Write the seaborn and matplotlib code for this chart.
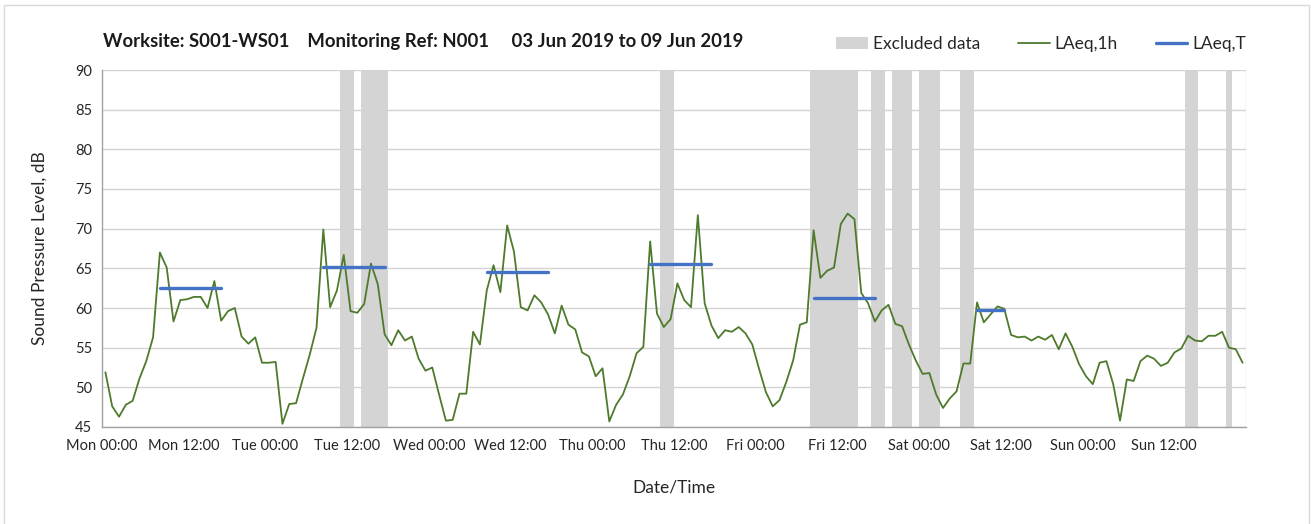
import pandas as pd
import matplotlib
matplotlib.use("Agg")
import matplotlib.pyplot as plt
import matplotlib.dates as mdates
from matplotlib.patches import Rectangle, Patch
from matplotlib.lines import Line2D
import seaborn as sns

# -------------------------------
# Data (hourly LAeq,1h, Mon 03 Jun 2019 00:00 onwards)
# -------------------------------
laeq_mon = [51.9, 47.6, 46.3, 47.8, 48.3, 51.1, 53.3, 56.3, 67.0, 65.1, 58.3, 61.0,
            61.1, 61.4, 61.4, 60.0, 63.4, 58.4, 59.6, 60.0, 56.4, 55.5, 56.3, 53.1]
laeq_tue = [53.1, 53.2, 45.4, 47.9, 48.0, 51.1, 54.1, 57.5, 69.9, 60.1, 62.2, 66.7,
            59.6, 59.4, 60.5, 65.6, 63.0, 56.7, 55.3, 57.2, 55.9, 56.4, 53.6, 52.1]
laeq_wed = [52.5, 49.1, 45.8, 45.9, 49.2, 49.2, 57.0, 55.4, 62.2, 65.4, 62.0, 70.4,
            67.1, 60.1, 59.7, 61.6, 60.7, 59.2, 56.8, 60.3, 57.9, 57.3, 54.4, 53.9]
laeq_thu = [51.4, 52.4, 45.7, 47.8, 49.1, 51.4, 54.3, 55.1, 68.4, 59.3, 57.6, 58.6,
            63.1, 61.0, 60.1, 71.7, 60.6, 57.8, 56.2, 57.2, 57.0, 57.6, 56.8, 55.4]
laeq_fri = [52.3, 49.4, 47.6, 48.4, 50.7, 53.4, 57.9, 58.2, 69.8, 63.8, 64.7, 65.1,
            70.6, 71.9, 71.2, 61.9, 60.6, 58.3, 59.7, 60.4, 58.0, 57.7, 55.4, 53.4]
laeq_sat = [51.7, 51.8, 49.1, 47.4, 48.6, 49.5, 53.0, 53.0, 60.7, 58.2, 59.2, 60.2,
            59.9, 56.6, 56.3, 56.4, 55.9, 56.4, 56.0, 56.6, 54.8, 56.8, 55.1, 52.9]
laeq_sun = [51.4, 50.4, 53.1, 53.3, 50.4, 45.8, 51.0, 50.8, 53.3, 54.0, 53.6, 52.7,
            53.1, 54.4, 54.9, 56.5, 55.9, 55.8, 56.5, 56.5, 57.0, 55.0, 54.8, 53.1]

# LAeq,T periods: first hour, last hour (hours from Mon 00:00), level
period_start = [8, 32, 56, 80, 104, 128]
period_end = [17, 41, 65, 89, 113, 132]
period_level = [62.5, 65.2, 64.5, 65.6, 61.3, 59.8]

# Excluded data spans (hours from Mon 00:00)
excl_start = [35, 38, 82, 104, 113, 116, 120, 126, 159, 165]
excl_end = [37, 42, 84, 111, 115, 119, 123, 128, 161, 166]

x_tick_hours = list(range(0, 168, 12))

# -------------------------------
# Build tables
# -------------------------------
t0 = pd.Timestamp("2019-06-03 00:00")
levels = laeq_mon + laeq_tue + laeq_wed + laeq_thu + laeq_fri + laeq_sat + laeq_sun
df = pd.DataFrame({
    "time": t0 + pd.to_timedelta([h + 0.5 for h in range(len(levels))], unit="h"),
    "level": levels,
})

rows = []
for i, (s, e, v) in enumerate(zip(period_start, period_end, period_level)):
    for h in range(s, e + 1):
        rows.append({"time": t0 + pd.Timedelta(hours=h + 0.5), "level": v, "period": i})
df_t = pd.DataFrame(rows)

# -------------------------------
# Plot
# -------------------------------
sns.set_theme(style="white")
plt.rcParams["font.family"] = ["Lato", "DejaVu Sans"]

green = "#4e7a2c"
blue = "#4472c4"
band = "#d4d4d4"
grid_c = "#d3d3d3"
axis_c = "#a0a0a0"

fig = plt.figure(figsize=(13.11, 5.24), dpi=100)
ax = fig.add_axes([102 / 1311, 1 - 427 / 524, 1144 / 1311, 357 / 524])

for s, e in zip(excl_start, excl_end):
    ax.axvspan(t0 + pd.Timedelta(hours=s), t0 + pd.Timedelta(hours=e),
               color=band, lw=0, zorder=0.2)

sns.lineplot(data=df, x="time", y="level", color=green, lw=1.3, ax=ax, zorder=3)
sns.lineplot(data=df_t, x="time", y="level", units="period", estimator=None,
             color=blue, lw=2.4, ax=ax, zorder=4)

ax.set_xlim(t0, t0 + pd.Timedelta(hours=168))
ax.set_ylim(45, 90)
ax.set_yticks(range(45, 91, 5))

ax.set_xticks([t0 + pd.Timedelta(hours=h) for h in x_tick_hours])
ax.xaxis.set_major_formatter(mdates.DateFormatter("%a %H:%M"))
ax.xaxis.set_minor_locator(mdates.DayLocator())

ax.set_axisbelow(True)
ax.grid(axis="y", color=grid_c, lw=1.0)
ax.grid(axis="x", which="minor", color=grid_c, lw=1.0)
ax.grid(axis="x", which="major", visible=False)

for side in ["top", "right"]:
    ax.spines[side].set_visible(False)
for side in ["left", "bottom"]:
    ax.spines[side].set_color(axis_c)
    ax.spines[side].set_linewidth(1.0)

ax.tick_params(axis="both", which="major", direction="out", length=4, width=1,
               color=axis_c, labelsize=10.5, labelcolor="#262626", pad=3)
ax.tick_params(axis="x", which="minor", length=0)
ax.tick_params(axis="x", pad=5)

ax.set_xlabel("Date/Time", fontsize=12.5, color="#262626", labelpad=19)
ax.set_ylabel("Sound Pressure Level, dB", fontsize=12.5, color="#262626", labelpad=20)

fig.text(103 / 1311, 1 - 42 / 524,
         "Worksite: S001-WS01    Monitoring Ref: N001     03 Jun 2019 to 09 Jun 2019",
         fontsize=13.3, fontweight="bold", color="#1a1a1a", va="center", ha="left")

handles = [
    Patch(facecolor=band, edgecolor="none", label="Excluded data"),
    Line2D([], [], color=green, lw=1.3, label="LAeq,1h"),
    Line2D([], [], color=blue, lw=2.4, label="LAeq,T"),
]
fig.legend(handles=handles, loc="center right", bbox_to_anchor=(1262 / 1311, 1 - 44 / 524),
           ncol=3, frameon=False, fontsize=12.5, handlelength=1.8, handleheight=0.7,
           handletextpad=0.3, columnspacing=2.2, labelcolor="#262626")

# chart area border
fig.add_artist(Rectangle((4 / 1311, -0.02), 1305 / 1311, 1.02 - 5 / 524,
                         transform=fig.transFigure, fill=False,
                         edgecolor="#d9d9d9", lw=1.0))

fig.savefig("out.png", dpi=100)
plt.close(fig)
